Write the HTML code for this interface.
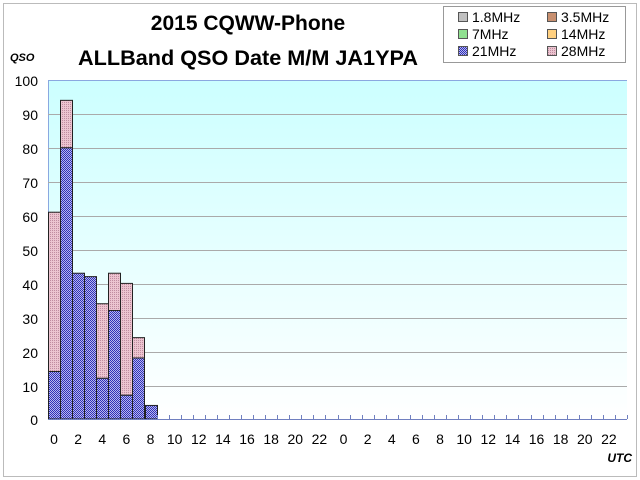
<!DOCTYPE html>
<html><head><style>
body{margin:0;background:#fff;}
svg{display:block;font-family:"Liberation Sans","Noto Sans CJK JP",sans-serif;}
</style></head><body>
<svg width="640" height="480" viewBox="0 0 640 480">
<defs>
<linearGradient id="bg" x1="0" y1="0" x2="0" y2="1">
<stop offset="0" stop-color="#ccffff"/><stop offset="1" stop-color="#ffffff"/>
</linearGradient>
<pattern id="pb" width="2" height="2" patternUnits="userSpaceOnUse">
<rect width="2" height="2" fill="#b8b8ee"/><rect width="1" height="1" fill="#3030b8"/><rect x="1" y="1" width="1" height="1" fill="#3030b8"/>
</pattern>
<pattern id="pp" width="2" height="2" patternUnits="userSpaceOnUse">
<rect width="2" height="2" fill="#ecc4d0"/><rect width="1" height="1" fill="#c08ca0"/>
</pattern>
</defs>
<rect x="3.5" y="3.5" width="633" height="473" fill="#fff" stroke="#bbb"/>
<text x="248" y="30" font-size="21" font-weight="bold" text-anchor="middle">2015 CQWW-Phone</text>
<text x="248" y="65" font-size="21" font-weight="bold" text-anchor="middle" textLength="340" lengthAdjust="spacingAndGlyphs">ALLBand QSO Date M/M JA1YPA</text>
<text x="10" y="61" font-size="11" font-weight="bold" font-style="italic">QSO</text>
<text x="632" y="462" font-size="12" font-weight="bold" font-style="italic" text-anchor="end">UTC</text>
<rect x="443.5" y="6.5" width="182" height="56" fill="#fff" stroke="#999"/>
<g font-size="14">
<rect x="458.5" y="12.5" width="9" height="9" fill="#c0c0c0" stroke="#555"/><text x="472" y="22">1.8MHz</text>
<rect x="547.5" y="12.5" width="9" height="9" fill="#c89070" stroke="#555"/><text x="561" y="22">3.5MHz</text>
<rect x="458.5" y="29.5" width="9" height="9" fill="#90e090" stroke="#555"/><text x="472" y="39">7MHz</text>
<rect x="547.5" y="29.5" width="9" height="9" fill="#ffd080" stroke="#555"/><text x="561" y="39">14MHz</text>
<rect x="458.5" y="46.5" width="9" height="9" fill="url(#pb)" stroke="#555"/><text x="472" y="56">21MHz</text>
<rect x="547.5" y="46.5" width="9" height="9" fill="url(#pp)" stroke="#555"/><text x="561" y="56">28MHz</text>
</g>
<rect x="48" y="80" width="579" height="339" fill="url(#bg)"/>
<line x1="48" y1="80.5" x2="627" y2="80.5" stroke="#8aa8e0"/>
<line x1="48.5" y1="80" x2="48.5" y2="419" stroke="#8aa8e0"/>
<g stroke="#aaa" stroke-width="1">
<line x1="48" y1="114.5" x2="627" y2="114.5"/><line x1="48" y1="148.5" x2="627" y2="148.5"/>
<line x1="48" y1="182.5" x2="627" y2="182.5"/><line x1="48" y1="216.5" x2="627" y2="216.5"/>
<line x1="48" y1="250.5" x2="627" y2="250.5"/><line x1="48" y1="284.5" x2="627" y2="284.5"/>
<line x1="48" y1="318.5" x2="627" y2="318.5"/><line x1="48" y1="352.5" x2="627" y2="352.5"/>
<line x1="48" y1="386.5" x2="627" y2="386.5"/>
</g>
<g id="bars" stroke="#222" stroke-width="1"></g>
<line x1="48" y1="419.5" x2="627" y2="419.5" stroke="#7080c0"/>
<g id="ticks" stroke="#7080c0"></g>
<g font-size="14" text-anchor="end">
<text x="38" y="86">100</text><text x="38" y="120">90</text><text x="38" y="154">80</text>
<text x="38" y="188">70</text><text x="38" y="222">60</text><text x="38" y="256">50</text>
<text x="38" y="290">40</text><text x="38" y="324">30</text><text x="38" y="358">20</text>
<text x="38" y="392">10</text><text x="38" y="425">0</text>
</g>
<g id="xl" font-size="14" text-anchor="middle"></g>
</svg>
<script>
var ns="http://www.w3.org/2000/svg",x0=48,w=579/48,y0=419,k=3.39;
var d=[[14,61],[80,94],[43,43],[42,42],[12,34],[32,43],[7,40],[18,24],[4,4]];
var g=document.getElementById("bars");
function r(x,y,ww,h,f){var e=document.createElementNS(ns,"rect");e.setAttribute("x",x);e.setAttribute("y",y);e.setAttribute("width",ww);e.setAttribute("height",h);e.setAttribute("fill",f);g.appendChild(e);}
d.forEach(function(v,i){var x=Math.round(x0+i*w)+0.5,ww=Math.round(w);
if(v[1]>v[0])r(x,y0-v[1]*k,ww,(v[1]-v[0])*k,"url(#pp)");
r(x,y0-v[0]*k,ww,v[0]*k,"url(#pb)");});
var t=document.getElementById("ticks");
for(var i=9;i<=48;i++){var l=document.createElementNS(ns,"line"),x=Math.round(x0+i*w)+0.5;l.setAttribute("x1",x);l.setAttribute("x2",x);l.setAttribute("y1",415);l.setAttribute("y2",419);t.appendChild(l);}
var xl=document.getElementById("xl");
for(var i=0;i<48;i+=2){var e=document.createElementNS(ns,"text");e.setAttribute("x",x0+(i+0.5)*w);e.setAttribute("y",444);e.textContent=(i%24);xl.appendChild(e);}
</script>
</body></html>
